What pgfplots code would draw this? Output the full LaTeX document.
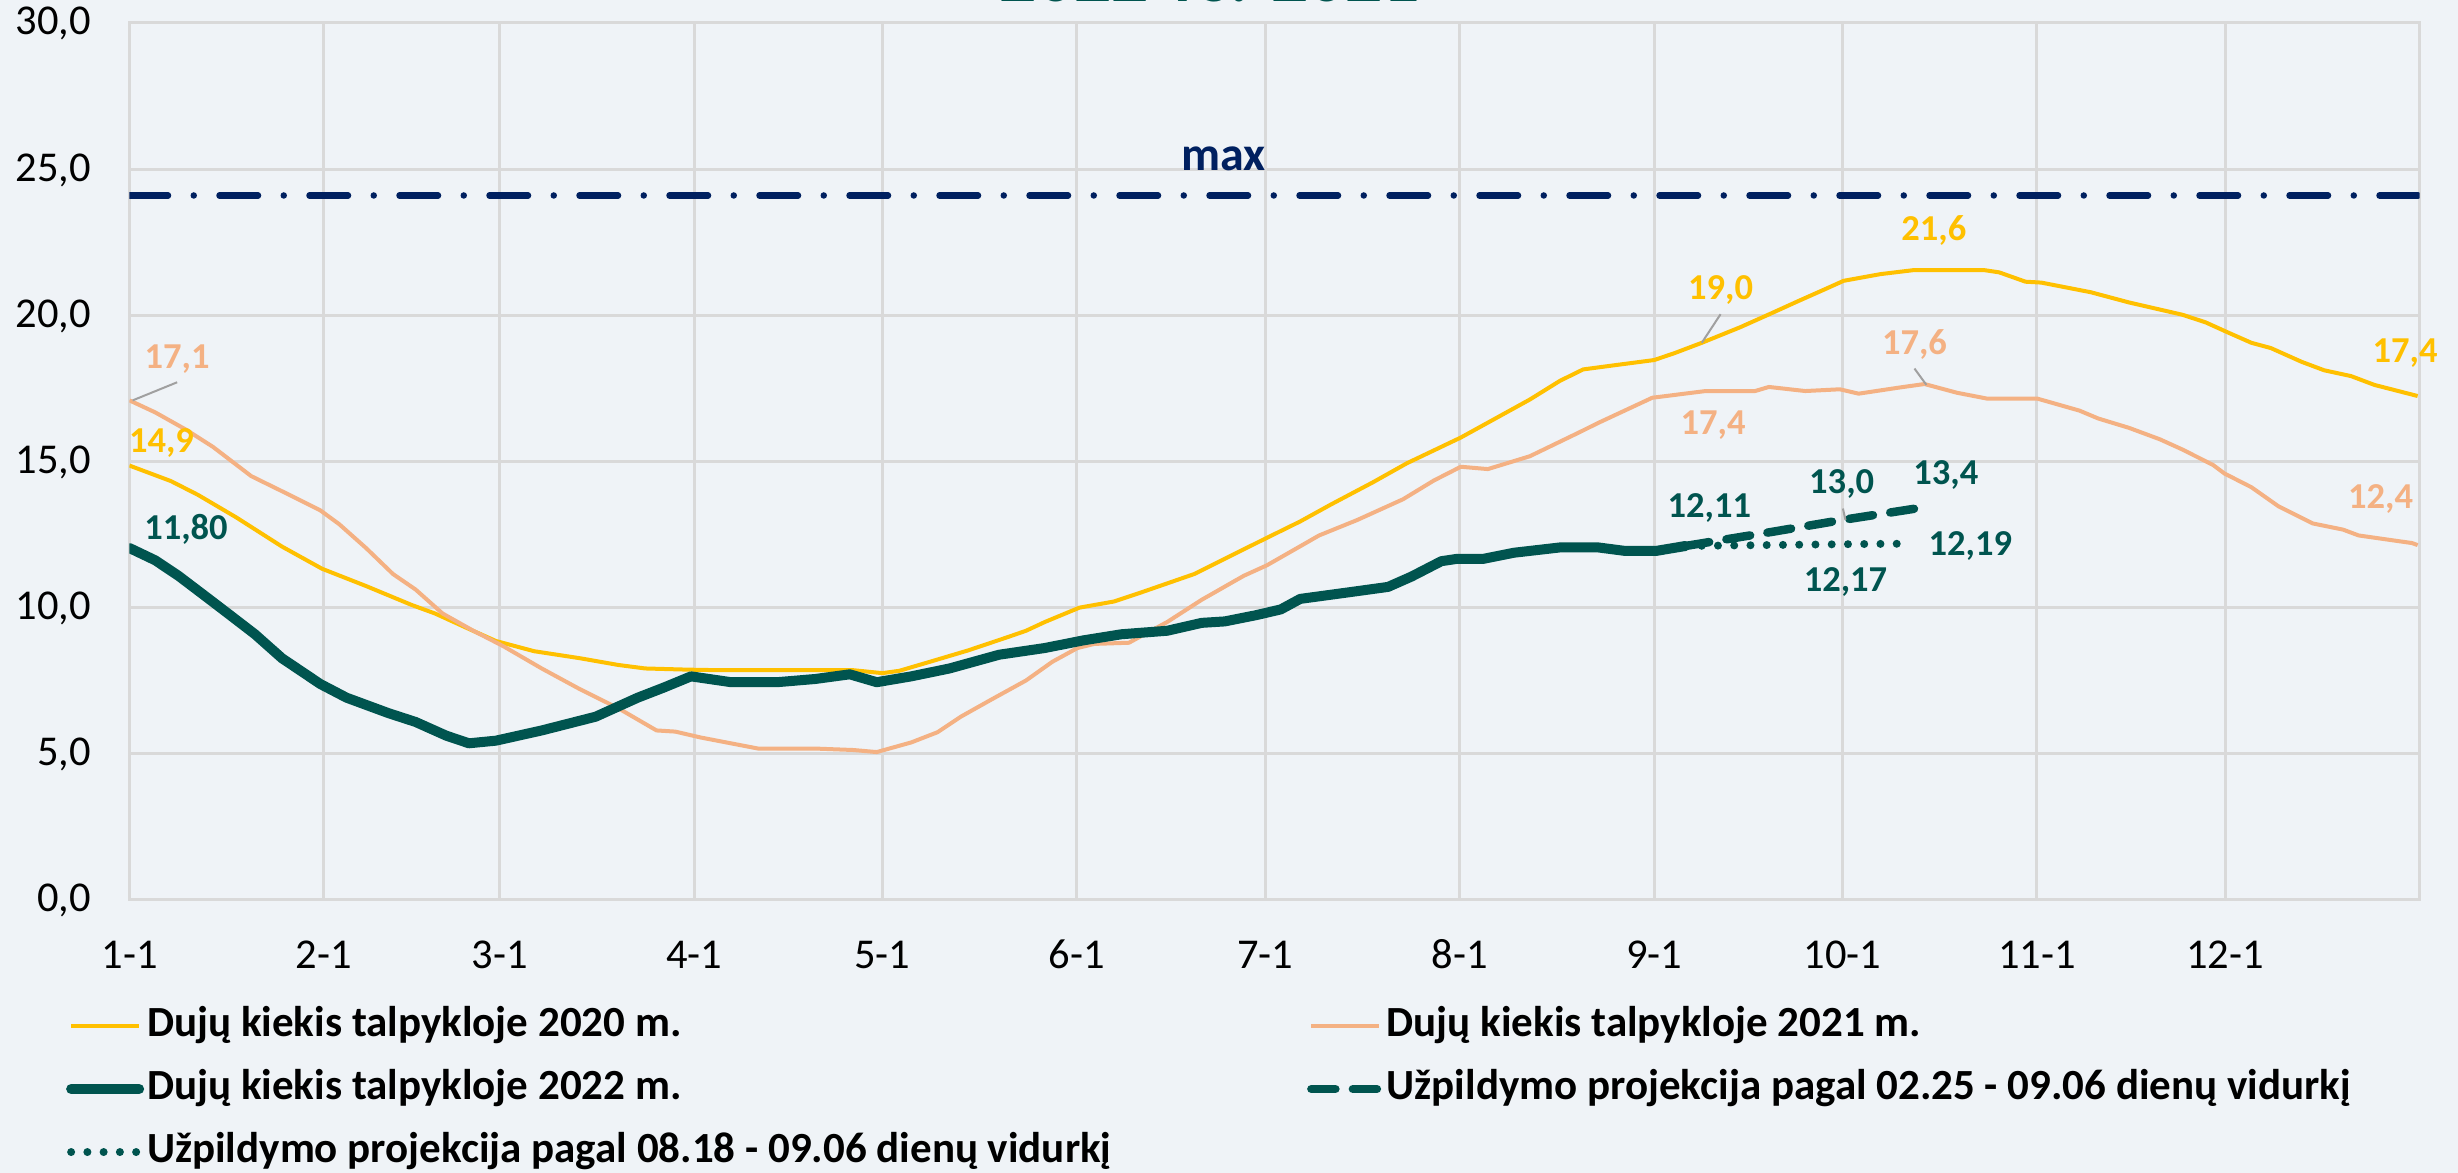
\documentclass[border=0pt]{standalone}
\usepackage{pgfplots}
\pgfplotsset{compat=1.18}
\usepackage{fontspec}
\setmainfont{Carlito}
\definecolor{bg}{RGB}{239,243,247}
\definecolor{gridc}{RGB}{217,217,217}
\definecolor{yel}{RGB}{255,192,0}
\definecolor{sal}{RGB}{244,177,131}
\definecolor{teal2}{RGB}{0,84,79}
\definecolor{navy}{RGB}{0,32,96}
\definecolor{lead}{RGB}{160,160,160}
\tikzset{lbl/.style={font=\bfseries\fontsize{7.3}{8}\selectfont, inner sep=0pt, anchor=center}}
\begin{document}
\begin{tikzpicture}
\useasboundingbox (-25.9pt,-54.6pt) rectangle (465.7pt,180pt);
\fill[bg] (-25.9pt,-54.6pt) rectangle (465.7pt,180pt);
\node[anchor=base, font=\bfseries\fontsize{14.7}{16}\selectfont, text=teal2, inner sep=0pt] at (216.1pt,179.7pt) {2022 vs. 2021};
\begin{axis}[
  at={(0pt,0pt)}, anchor=south west,
  scale only axis, width=458pt, height=175.4pt,
  xmin=0, xmax=365, ymin=0, ymax=30,
  xtick={0,31,59,90,120,151,181,212,243,273,304,334},
  xticklabels={1-1,2-1,3-1,4-1,5-1,6-1,7-1,8-1,9-1,10-1,11-1,12-1},
  ytick={0,5,10,15,20,25,30},
  yticklabels={{0,0},{5,0},{10,0},{15,0},{20,0},{25,0},{30,0}},
  grid=major, major grid style={draw=gridc, line width=0.6pt},
  axis line style={draw=gridc, line width=0.6pt},
  major tick length=0pt,
  tick label style={font=\fontsize{8.5}{10}\selectfont, text=black},
  xticklabel style={anchor=base, yshift=-13.65pt, inner sep=0pt},
  yticklabel style={anchor=mid east, xshift=-7.5pt, inner sep=0pt},
  clip mode=individual,
  legend columns=2,
  legend cell align=left,
  legend style={draw=none, fill=none, at={(-0.0281,-0.1192)}, anchor=north west, inner sep=0pt,
    font=\bfseries\fontsize{8.6}{10}\selectfont, row sep=4.4pt,
    nodes={inner sep=0pt, text height=6.2pt, text depth=2pt},
    /tikz/every odd column/.append style={column sep=0.6pt}},
  legend image code/.code={\draw[#1] (0pt,0pt) -- (13.6pt,0pt);},
]
% max line
\addplot[navy, line width=1.3pt, line cap=round, dash pattern=on 7.7pt off 5.15pt on 0pt off 5.15pt, forget plot]
  coordinates {(0,24.1)(365,24.1)};
% 2020
\addplot[yel, line width=0.8pt, line join=round] coordinates {
(0,14.86)(6.6,14.33)(10.9,13.86)(17,13.09)(24.3,12.09)(30.7,11.33)(37.7,10.74)(45,10.09)(48.7,9.8)(53.5,9.33)(58.4,8.86)(64.5,8.51)(71.8,8.27)(77.9,8.04)(82.2,7.92)(88.9,7.88)(94.3,7.86)(115.4,7.86)(120,7.76)(122.7,7.84)(127.6,8.15)(133.7,8.54)(139.8,8.98)(142.9,9.21)(145.9,9.51)(151.4,10.0)(156.9,10.21)(161.1,10.51)(169.7,11.15)(175.2,11.74)(181.3,12.39)(186.6,12.95)(191.5,13.53)(198.2,14.29)(203.6,14.94)(212.2,15.82)(217.7,16.47)(223.2,17.12)(228,17.76)(231.7,18.15)(236.6,18.29)(243,18.47)(246.3,18.71)(250.6,19.06)(256.7,19.59)(261.6,20.06)(265.8,20.47)(270.1,20.88)(273.2,21.18)(279.1,21.41)(284.5,21.55)(295.5,21.55)(298,21.47)(302.2,21.15)(304.7,21.12)(312.6,20.79)(318.7,20.44)(327.2,20.02)(330.9,19.76)(334.5,19.41)(338.2,19.06)(341.3,18.88)(346.2,18.41)(349.8,18.12)(354.1,17.92)(357.8,17.62)(364.7,17.24)};
\addlegendentry{\makebox[232pt][l]{Dujų kiekis talpykloje 2020 m.}}
% 2021
\addplot[sal, line width=0.8pt, line join=round] coordinates {
(0,17.09)(4.1,16.68)(9,16.09)(13.3,15.5)(19.4,14.5)(24.9,13.92)(30.4,13.33)(33.4,12.86)(37.7,12.04)(42,11.15)(45.6,10.62)(49.9,9.8)(54.8,9.21)(59.6,8.68)(65.7,7.92)(71.8,7.21)(77.9,6.56)(84,5.8)(87,5.76)(91,5.56)(100.2,5.18)(109.3,5.18)(115.4,5.13)(119.1,5.06)(124.6,5.39)(128.8,5.74)(132.5,6.27)(137.4,6.86)(142.9,7.51)(147.1,8.15)(151.1,8.62)(153.8,8.76)(159.3,8.8)(165.4,9.51)(170.9,10.27)(177.6,11.09)(181.3,11.45)(186.6,12.1)(189.6,12.47)(195.7,13.0)(203,13.71)(207.9,14.35)(212.2,14.82)(216.5,14.74)(223.2,15.18)(231.1,16.0)(234.1,16.32)(242.7,17.18)(251.2,17.41)(259.1,17.41)(261.3,17.55)(267.1,17.41)(272.6,17.47)(275.6,17.32)(282.1,17.53)(286.1,17.65)(291.3,17.35)(296.1,17.15)(304.1,17.15)(310.8,16.74)(313.8,16.47)(318.7,16.15)(323.6,15.76)(327.2,15.41)(332.1,14.88)(333.9,14.59)(338.2,14.12)(342.5,13.47)(348,12.88)(352.8,12.67)(355.3,12.47)(363.8,12.21)(364.7,12.14)};
\addlegendentry{Dujų kiekis talpykloje 2021 m.}
% 2022
\addplot[teal2, line width=2pt, line join=round, line cap=round] coordinates {
(0,12.04)(4.1,11.62)(7.8,11.09)(12.1,10.39)(15.7,9.8)(20,9.09)(24.3,8.27)(30.4,7.39)(34.6,6.92)(41.3,6.39)(45.6,6.09)(50.5,5.62)(54.1,5.36)(58.4,5.45)(65.7,5.8)(74.3,6.27)(81,6.92)(85.2,7.27)(89.5,7.65)(95.9,7.45)(103.2,7.45)(109.3,7.56)(114.8,7.72)(119.1,7.45)(124.6,7.65)(130.7,7.92)(138.6,8.39)(145.9,8.62)(152,8.88)(158.1,9.09)(165.4,9.21)(170.9,9.48)(174.6,9.53)(179.5,9.74)(183.5,9.94)(186.6,10.3)(194.5,10.53)(200.6,10.71)(204.3,11.06)(209.1,11.59)(211.6,11.67)(215.8,11.67)(220.7,11.88)(228,12.06)(234.1,12.06)(238.4,11.94)(243.3,11.94)(248,12.11)};
\addlegendentry{\makebox[232pt][l]{Dujų kiekis talpykloje 2022 m.}}
% projection 02.25 - 09.06
\addplot[teal2, line width=1.7pt, line cap=round, dash pattern=on 4.8pt off 3.5pt] coordinates {
(248,12.11)(262,12.6)(273,13.0)(285,13.4)};
\addlegendentry{Užpildymo projekcija pagal 02.25 - 09.06 dienų vidurkį}
% projection 08.18 - 09.06
\addplot[teal2, line width=1.6pt, line cap=round, dash pattern=on 0pt off 3.25pt] coordinates {
(248,12.11)(273,12.17)(284,12.19)};
\addlegendentry{\makebox[232pt][l]{Užpildymo projekcija pagal 08.18 - 09.06 dienų vidurkį}}
% leaders
\draw[lead, line width=0.4pt] (axis cs:0.5,17.09) -- (axis cs:7.6,17.71);
\draw[lead, line width=0.4pt] (axis cs:250.6,19.06) -- (axis cs:253.6,20.04);
\draw[lead, line width=0.4pt] (axis cs:286.4,17.62) -- (axis cs:284.5,18.18);
\draw[lead, line width=0.4pt] (axis cs:273.5,13.0) -- (axis cs:273.1,13.39);
% labels
\node[lbl, text=sal] at (axis cs:7.6,18.51) {17,1};
\node[lbl, text=yel] at (axis cs:5.1,15.62) {14,9};
\node[lbl, text=teal2] at (axis cs:9,12.68) {11,80};
\node[lbl, text=yel] at (axis cs:253.6,20.88) {19,0};
\node[lbl, text=sal] at (axis cs:252.4,16.24) {17,4};
\node[lbl, text=teal2] at (axis cs:251.8,13.41) {12,11};
\node[lbl, text=teal2] at (axis cs:272.9,14.24) {13,0};
\node[lbl, text=teal2] at (axis cs:273.5,10.88) {12,17};
\node[lbl, text=yel] at (axis cs:287.6,22.91) {21,6};
\node[lbl, text=sal] at (axis cs:284.5,19.0) {17,6};
\node[lbl, text=teal2] at (axis cs:289.5,14.53) {13,4};
\node[lbl, text=teal2] at (axis cs:293.4,12.12) {12,19};
\node[lbl, text=yel] at (axis cs:362.7,18.71) {17,4};
\node[lbl, text=sal] at (axis cs:358.8,13.73) {12,4};
\node[font=\bfseries\fontsize{9.6}{11}\selectfont, text=navy, inner sep=0pt] at (axis cs:174.4,25.35) {max};
\end{axis}
\end{tikzpicture}
\end{document}
